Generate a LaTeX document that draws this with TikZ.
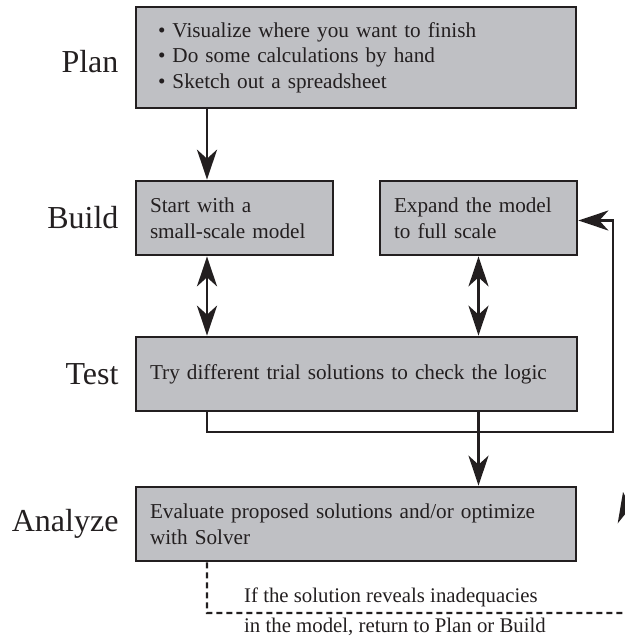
\documentclass[tikz,border=0pt]{standalone}
\usepackage{fontspec}
\setmainfont{Liberation Serif}
\usetikzlibrary{positioning,arrows.meta}
\definecolor{boxgray}{RGB}{191,192,196}
\definecolor{ink}{RGB}{35,31,32}
\tikzset{
  box/.style={draw=ink, fill=boxgray, line width=2.7pt, rectangle, align=left, inner ysep=0pt, inner xsep=14pt, text=ink, font=\fontsize{21.2}{25.5}\selectfont},
  stage/.style={text=ink, inner sep=0pt, font=\fontsize{32}{36}\selectfont},
  note/.style={text=ink, inner sep=0pt, font=\fontsize{20.8}{25}\selectfont},
  flow/.style={draw=ink, line width=2.7pt, -{Stealth[length=30pt,width=20pt,inset=9pt]}},
  twoway/.style={flow, {Stealth[length=30pt,width=20pt,inset=9pt]}-{Stealth[length=30pt,width=20pt,inset=9pt]}}
}
\begin{document}
\begin{tikzpicture}[x=1pt,y=1pt,yscale=-1,node distance=16pt]
\useasboundingbox (0,0) rectangle (624,642);

%Shape: Rectangle [id:plan]
\node[box, inner xsep=22pt, text width=396pt, minimum width=440pt, minimum height=101pt] (plan) at (356,57.5)
  {\textbullet\ Visualize where you want to finish\\ \textbullet\ Do some calculations by hand\\ \textbullet\ Sketch out a spreadsheet};
%Shape: Rectangle [id:buildL]
\node[box, text width=169pt, minimum width=197pt, minimum height=74pt] (buildL) at (234.5,218) {Start with a\\ small-scale model};
%Shape: Rectangle [id:buildR]
\node[box, text width=169pt, minimum width=197pt, minimum height=74pt] (buildR) at (478.5,218) {Expand the model\\ to full scale};
%Shape: Rectangle [id:test]
\node[box, text width=413pt, minimum width=441pt, minimum height=74pt] (test) at (356.5,374) {Try different trial solutions to check the logic};
%Shape: Rectangle [id:analyze]
\node[box, text width=412pt, minimum width=440pt, minimum height=74pt] (analyze) at (356,524) {Evaluate proposed solutions and/or optimize\\ with Solver};

% Text Node
\node[stage, left=of plan, yshift=-4.5pt] (lplan) {Plan};
% Text Node
\node[stage, left=of buildL] (lbuild) {Build};
% Text Node
\node[stage, left=of test] (ltest) {Test};
% Text Node
\node[stage, left=of analyze] (lanalyze) {Analyze};

\coordinate (lx) at (207,0);
\coordinate (loop) at (613,432);
\coordinate (back) at (642,613);
\coordinate (tip) at (623,492);
\coordinate (remark) at (244,613);

%Straight Lines
\draw[flow] (plan.south -| lx) -- (buildL.north -| lx);
\draw[twoway] (buildL.south -| lx) -- (test.north -| lx);
\draw[twoway] (buildR.south) -- (test.north -| buildR);
\draw[flow] (test.south -| lx) |- (loop) |- ([yshift=2.5pt]buildR.east);
\draw[flow] (test.south -| buildR) -- (analyze.north -| buildR);
%Dashed Lines
\draw[flow, line width=2.2pt, dash pattern=on 6pt off 4pt] (analyze.south -| lx) |- (back) -- (tip);

% Text Node
\node[note, anchor=base west] (noteup) at ([yshift=-11pt]remark) {If the solution reveals inadequacies};
% Text Node
\node[note, anchor=base west] (notedown) at ([yshift=19pt]remark) {in the model, return to Plan or Build};

\end{tikzpicture}
\end{document}
